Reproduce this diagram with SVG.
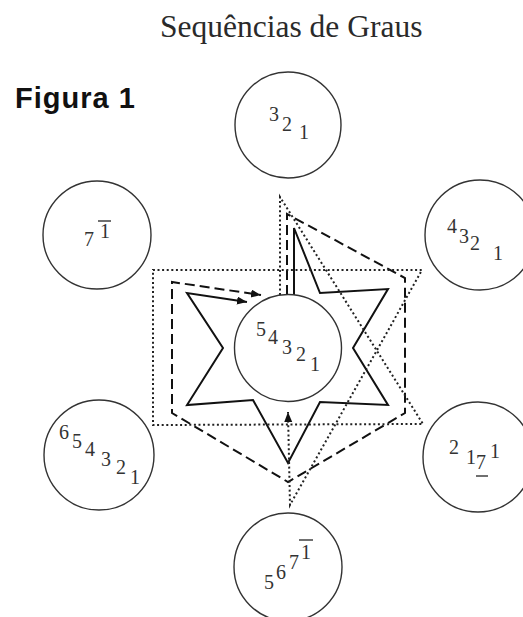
<svg xmlns="http://www.w3.org/2000/svg" width="523" height="617" viewBox="0 0 523 617">
<style>
.node circle{fill:none;stroke:#333;stroke-width:1.4}
.d{font-family:"Liberation Serif",serif;font-size:20px;fill:#333}
.bar{stroke:#333;stroke-width:1.4}
.solid{fill:none;stroke:#111;stroke-width:2;stroke-linejoin:miter}
.dash{fill:none;stroke:#111;stroke-width:2;stroke-dasharray:10 5}
.dot{fill:none;stroke:#222;stroke-width:2;stroke-dasharray:2 2.6}
</style>
<defs>
<marker id="arr" markerUnits="userSpaceOnUse" markerWidth="12" markerHeight="10" refX="10" refY="4" orient="auto">
<path d="M0,0 L10,4 L0,8 Z" fill="#111"/>
</marker>
</defs>
<rect width="523" height="617" fill="#fff"/>
<text x="160" y="37" font-family="Liberation Serif,serif" font-size="31.5" fill="#2a2a2a">Sequências de Graus</text>
<text x="15" y="108" font-family="Liberation Sans,Arial,sans-serif" font-size="29" font-weight="bold" fill="#111" textLength="120" lengthAdjust="spacing">Figura 1</text>

<g id="connectors">
<path class="solid" marker-end="url(#arr)" d="M294,295 L294,228 L320,293 L388,289 L353,348 L388,405 L320,402 L288,463 L253,400 L187,405 L223,348 L187,293 L247,302"/>
<path class="dash" marker-end="url(#arr)" d="M287,295 L287,214 L405,278 L405,413 L288,482 L172,413 L172,282 L261,295"/>
<path class="dot" marker-end="url(#arr)" d="M280,295 L280,197 L423,424 L153,425 L153,270 L422,270 L290,505 L288,412"/>
</g>

<g id="n-top" class="node">
<circle cx="288" cy="125" r="53"/>
<text class="d" x="269" y="121">3</text><text class="d" x="282" y="131">2</text><text class="d" x="299" y="139">1</text>
</g>
<g id="n-upper-left" class="node">
<circle cx="97" cy="235" r="54"/>
<text class="d" x="84" y="246">7</text><text class="d" x="100" y="238">1</text>
<line class="bar" x1="98" y1="221" x2="111" y2="221"/>
</g>
<g id="n-upper-right" class="node">
<circle cx="480" cy="235" r="55"/>
<text class="d" x="447" y="233">4</text><text class="d" x="459" y="243">3</text><text class="d" x="470" y="250">2</text><text class="d" x="493" y="260">1</text>
</g>
<g id="n-center" class="node">
<circle cx="288" cy="348" r="53.5"/>
<text class="d" x="256" y="336">5</text><text class="d" x="268" y="344">4</text><text class="d" x="282" y="354">3</text><text class="d" x="296" y="361">2</text><text class="d" x="310" y="371">1</text>
</g>
<g id="n-lower-left" class="node">
<circle cx="99" cy="455" r="55"/>
<text class="d" x="59" y="439">6</text><text class="d" x="72" y="448">5</text><text class="d" x="85" y="456">4</text><text class="d" x="101" y="466">3</text><text class="d" x="116" y="474">2</text><text class="d" x="130" y="484">1</text>
</g>
<g id="n-lower-right" class="node">
<circle cx="478" cy="457" r="55"/>
<text class="d" x="449" y="454">2</text><text class="d" x="466" y="464">1</text><text class="d" x="476" y="469">7</text><text class="d" x="490" y="458">1</text>
<line class="bar" x1="476" y1="476" x2="488" y2="476"/>
</g>
<g id="n-bottom" class="node">
<circle cx="288" cy="567" r="54"/>
<text class="d" x="264" y="589">5</text><text class="d" x="276" y="579">6</text><text class="d" x="289" y="569">7</text><text class="d" x="301" y="559">1</text>
<line class="bar" x1="299" y1="540" x2="313" y2="540"/>
</g>
</svg>
